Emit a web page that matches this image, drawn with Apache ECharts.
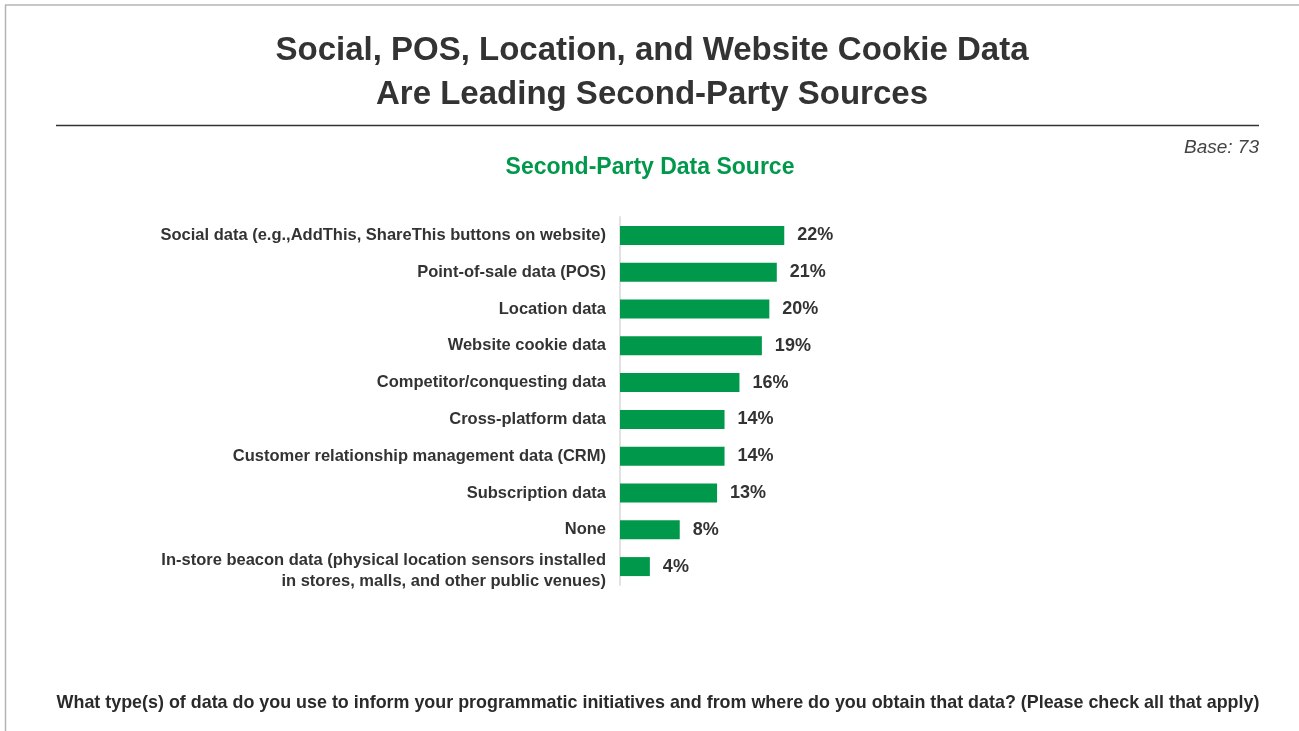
<!DOCTYPE html>
<html>
<head>
<meta charset="utf-8">
<script src="https://cdn.jsdelivr.net/npm/echarts@6/dist/echarts.min.js"></script>
<style>
  html, body { margin: 0; padding: 0; background: #fff; }
  #chart { width: 1299px; height: 731px; }
</style>
</head>
<body>
<div id="chart"></div>
<script>
// Second-party data sources, share of respondents (%)
const categories = [
  'Social data (e.g.,AddThis, ShareThis buttons on website)',
  'Point-of-sale data (POS)',
  'Location data',
  'Website cookie data',
  'Competitor/conquesting data',
  'Cross-platform data',
  'Customer relationship management data (CRM)',
  'Subscription data',
  'None',
  'In-store beacon data (physical location sensors installed\nin stores, malls, and other public venues)'
];
const values = [22, 21, 20, 19, 16, 14, 14, 13, 8, 4];

const titleLines = [
  'Social, POS, Location, and Website Cookie Data',
  'Are Leading Second-Party Sources'
];
const chartSubtitle = 'Second-Party Data Source';
const baseNote = 'Base: 73';
const questionText = 'What type(s) of data do you use to inform your programmatic initiatives and from where do you obtain that data? (Please check all that apply)';

const GREEN = '#00984a';
const DARK = '#333333';
const SANS = '"Liberation Sans", Arial, sans-serif';

const chart = echarts.init(document.getElementById('chart'), null, { renderer: 'canvas' });

chart.setOption({
  backgroundColor: '#ffffff',
  animation: false,
  grid: { left: 620, top: 217, width: 224, height: 368, containLabel: false },
  xAxis: {
    type: 'value',
    min: 0,
    max: 30,
    show: false
  },
  yAxis: {
    type: 'category',
    inverse: true,
    data: categories,
    axisLine: { show: true, lineStyle: { color: '#e2e2e2', width: 2 } },
    axisTick: { show: false },
    axisLabel: {
      margin: 14,
      color: DARK,
      fontFamily: SANS,
      fontWeight: 'bold',
      fontSize: 16.5,
      lineHeight: 21,
      align: 'right',
      // a thin spacer row nudges the two-line label a little below its bar centre
      formatter: v => v.indexOf('\n') >= 0 ? '{gap| }\n' + v : v,
      rich: {
        gap: { fontSize: 1, lineHeight: 8 }
      }
    }
  },
  series: [{
    type: 'bar',
    data: values,
    barWidth: 19,
    itemStyle: { color: GREEN },
    label: {
      show: true,
      position: 'right',
      distance: 13,
      formatter: '{c}%',
      color: DARK,
      fontFamily: SANS,
      fontWeight: 'bold',
      fontSize: 18
    }
  }],
  graphic: [
    // page frame (top and left edges)
    { type: 'line', shape: { x1: 5, y1: 5, x2: 1299, y2: 5 }, style: { stroke: '#b4b4b4', lineWidth: 1.5 } },
    { type: 'line', shape: { x1: 5.5, y1: 5, x2: 5.5, y2: 731 }, style: { stroke: '#b4b4b4', lineWidth: 1.5 } },
    // headline
    { type: 'text', x: 652, y: 51, style: { text: titleLines[0], fill: DARK, font: 'bold 33px ' + SANS, textAlign: 'center', textVerticalAlign: 'middle' } },
    { type: 'text', x: 652, y: 95, style: { text: titleLines[1], fill: DARK, font: 'bold 33px ' + SANS, textAlign: 'center', textVerticalAlign: 'middle' } },
    // rule under headline
    { type: 'line', shape: { x1: 56, y1: 125.5, x2: 1259, y2: 125.5 }, style: { stroke: '#333', lineWidth: 1.5 } },
    // base note
    { type: 'text', x: 1259, y: 148, style: { text: baseNote, fill: '#444', font: 'italic 19px ' + SANS, textAlign: 'right', textVerticalAlign: 'middle' } },
    // chart subtitle
    { type: 'text', x: 650, y: 168, style: { text: chartSubtitle, fill: GREEN, font: 'bold 23px ' + SANS, textAlign: 'center', textVerticalAlign: 'middle' } },
    // survey question
    { type: 'text', x: 658, y: 703, style: { text: questionText, fill: '#2a2a2a', font: 'bold 17.9px ' + SANS, textAlign: 'center', textVerticalAlign: 'middle' } }
  ]
});
</script>
</body>
</html>
